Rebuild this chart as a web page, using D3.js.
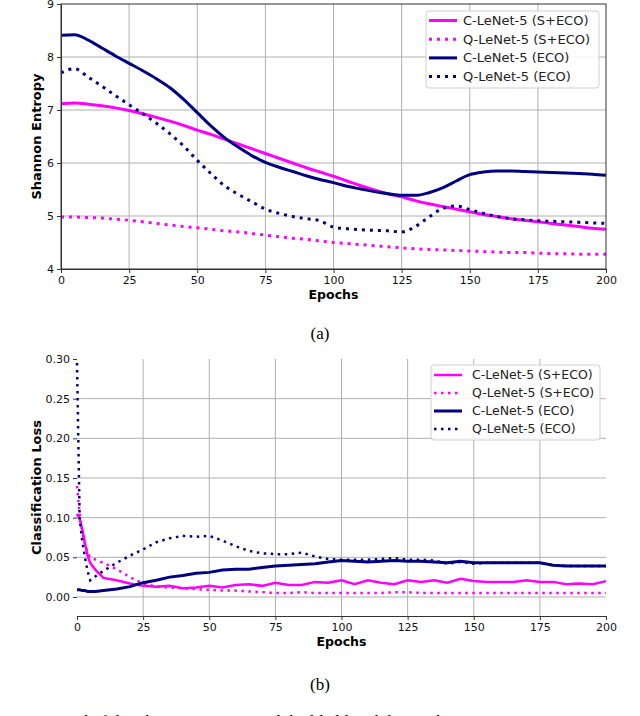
<!DOCTYPE html>
<html>
<head>
<meta charset="utf-8">
<script src="https://cdn.jsdelivr.net/npm/d3@7"></script>
<style>
body { margin: 0; background: #fff; }
svg text { font-family: "DejaVu Sans", sans-serif; fill: #000; }
</style>
</head>
<body>
<div id="viz"></div>
<script>
var width = 640;
var height = 716;

var seriesNames = ['C-LeNet-5 (S+ECO)', 'Q-LeNet-5 (S+ECO)', 'C-LeNet-5 (ECO)', 'Q-LeNet-5 (ECO)'];
var xTicks = [0, 25, 50, 75, 100, 125, 150, 175, 200];

// (a) Shannon entropy
var epochsA = [0,5,10,15,20,25,30,35,40,45,50,55,60,65,70,75,80,85,90,95,100,105,110,115,120,125,130,135,140,145,150,155,160,165,170,175,180,185,190,195,200];
var entropyCSE = [7.12,7.13,7.11,7.08,7.04,6.99,6.93,6.86,6.79,6.71,6.62,6.54,6.45,6.36,6.27,6.18,6.09,6.00,5.91,5.83,5.75,5.66,5.57,5.49,5.42,5.36,5.29,5.23,5.18,5.13,5.08,5.03,4.99,4.95,4.92,4.89,4.86,4.83,4.80,4.77,4.75];
var entropyQSE = [4.98,4.98,4.97,4.96,4.94,4.92,4.89,4.86,4.83,4.80,4.78,4.75,4.72,4.70,4.67,4.64,4.61,4.58,4.56,4.53,4.50,4.48,4.46,4.44,4.42,4.40,4.38,4.37,4.36,4.35,4.34,4.33,4.32,4.31,4.31,4.30,4.29,4.29,4.28,4.28,4.28];
var entropyCE = [8.41,8.42,8.32,8.17,8.02,7.88,7.74,7.59,7.42,7.20,6.95,6.70,6.48,6.30,6.14,6.01,5.92,5.84,5.76,5.69,5.63,5.56,5.51,5.46,5.42,5.39,5.39,5.44,5.53,5.66,5.78,5.83,5.85,5.85,5.84,5.83,5.82,5.81,5.80,5.79,5.77];
var entropyQE = [7.70,7.78,7.62,7.45,7.27,7.10,6.93,6.75,6.55,6.32,6.05,5.80,5.57,5.41,5.27,5.13,5.05,4.99,4.95,4.91,4.79,4.76,4.74,4.73,4.72,4.70,4.80,4.98,5.14,5.19,5.12,5.05,4.99,4.95,4.93,4.91,4.90,4.89,4.88,4.87,4.86];
var yTicksA = [4, 5, 6, 7, 8, 9];

// (b) classification loss
var epochsB = [0,1,2,3,4,5,7,10,15,20,25,30,35,40,45,50,55,60,65,70,75,80,85,90,95,100,105,110,115,120,125,130,135,140,145,150,155,160,165,170,175,180,185,190,195,200];
var lossCSE = [0.105,0.098,0.085,0.068,0.052,0.043,0.034,0.024,0.021,0.017,0.014,0.013,0.014,0.011,0.012,0.014,0.012,0.015,0.016,0.014,0.018,0.015,0.015,0.019,0.018,0.021,0.016,0.021,0.018,0.016,0.021,0.019,0.021,0.018,0.023,0.020,0.019,0.019,0.019,0.021,0.019,0.019,0.016,0.017,0.016,0.020];
var lossQSE = [0.140,0.105,0.082,0.066,0.056,0.050,0.047,0.043,0.035,0.025,0.017,0.013,0.012,0.011,0.010,0.009,0.008,0.008,0.007,0.006,0.005,0.005,0.006,0.005,0.005,0.005,0.005,0.005,0.005,0.006,0.006,0.005,0.005,0.005,0.005,0.005,0.005,0.005,0.005,0.005,0.005,0.005,0.005,0.005,0.005,0.005];
var lossCE = [0.009,0.009,0.008,0.008,0.007,0.007,0.007,0.008,0.010,0.013,0.018,0.021,0.025,0.027,0.030,0.031,0.034,0.035,0.035,0.037,0.039,0.040,0.041,0.042,0.044,0.046,0.045,0.044,0.045,0.046,0.045,0.045,0.044,0.043,0.045,0.043,0.043,0.043,0.043,0.043,0.043,0.040,0.039,0.039,0.039,0.039];
var lossQE = [0.295,0.100,0.070,0.050,0.033,0.021,0.026,0.033,0.043,0.052,0.060,0.069,0.074,0.077,0.076,0.077,0.071,0.064,0.058,0.055,0.054,0.054,0.056,0.051,0.048,0.047,0.047,0.047,0.048,0.049,0.047,0.047,0.046,0.042,0.044,0.042,0.043,0.043,0.043,0.043,0.043,0.040,0.039,0.039,0.039,0.039];
var yTicksB = [0, 0.05, 0.10, 0.15, 0.20, 0.25, 0.30];

var colors = ['#ff00ff', '#ff00ff', '#000080', '#000080'];
var dotted = [false, true, false, true];

var svg = d3.select('#viz').append('svg')
  .attr('width', width)
  .attr('height', height);

function panel(opt) {
  var g = svg.append('g');
  var x = d3.scaleLinear().domain([0, 200]).range([opt.left, opt.right]);
  var y = d3.scaleLinear().domain(opt.yDomain).range([opt.bottom, opt.top]);

  // grid
  g.append('g').selectAll('line')
    .data(xTicks.filter(function (t) { return opt.xGrid.indexOf(t) >= 0; }))
    .enter().append('line')
    .attr('x1', function (d) { return x(d); }).attr('x2', function (d) { return x(d); })
    .attr('y1', opt.top).attr('y2', opt.bottom)
    .style('stroke', '#b0b0b0').style('stroke-width', 1);
  g.append('g').selectAll('line')
    .data(opt.yGrid)
    .enter().append('line')
    .attr('x1', opt.left).attr('x2', opt.right)
    .attr('y1', function (d) { return y(d); }).attr('y2', function (d) { return y(d); })
    .style('stroke', '#b0b0b0').style('stroke-width', 1);

  // lines
  var line = d3.line()
    .x(function (d) { return x(d[0]); })
    .y(function (d) { return y(d[1]); })
    .curve(opt.curve);
  opt.series.forEach(function (vals, i) {
    var pts = opt.epochs.map(function (e, j) { return [e, vals[j]]; });
    g.append('path')
      .datum(pts)
      .attr('d', line)
      .style('fill', 'none')
      .style('stroke', colors[i])
      .style('stroke-width', opt.lw[i])
      .style('stroke-dasharray', dotted[i] ? opt.dash : null);
  });

  // axes
  var xAxis = g.append('g')
    .attr('transform', 'translate(0,' + opt.bottom + ')')
    .call(d3.axisBottom(x).tickValues(xTicks).tickSize(4).tickPadding(3).tickSizeOuter(0));
  var yAxis = g.append('g')
    .attr('transform', 'translate(' + opt.left + ',0)')
    .call(d3.axisLeft(y).tickValues(opt.yTicks).tickFormat(opt.yFormat).tickSize(4).tickPadding(3).tickSizeOuter(0));
  [xAxis, yAxis].forEach(function (a) {
    a.selectAll('text').style('font-size', '11px').style('font-family', '"DejaVu Sans", sans-serif').style('fill', '#111');
    a.selectAll('line').style('stroke', '#333');
    a.select('.domain').style('stroke', '#333');
  });
  if (!opt.frame) {
    yAxis.select('.domain').remove();
  } else {
    g.append('rect')
      .attr('x', opt.left).attr('y', opt.top)
      .attr('width', opt.right - opt.left).attr('height', opt.bottom - opt.top)
      .style('fill', 'none').style('stroke', '#333').style('stroke-width', 1);
  }

  // axis labels
  g.append('text')
    .attr('x', (opt.left + opt.right) / 2).attr('y', opt.xLabelY)
    .attr('text-anchor', 'middle')
    .style('font-size', '12.5px').style('font-weight', 'bold')
    .text('Epochs');
  g.append('text')
    .attr('transform', 'translate(' + opt.yLabelX + ',' + (opt.top + opt.bottom) / 2 + ') rotate(-90)')
    .attr('text-anchor', 'middle')
    .style('font-size', '13px').style('font-weight', 'bold')
    .text(opt.yLabel);

  // legend
  var L = opt.legend;
  g.append('rect')
    .attr('x', L.x).attr('y', L.y).attr('width', L.w).attr('height', L.h)
    .attr('rx', 3)
    .style('fill', '#fff').style('fill-opacity', 0.85)
    .style('stroke', '#d0d0d0').style('stroke-width', 1);
  seriesNames.forEach(function (name, i) {
    var yy = L.y + L.first + i * L.step;
    g.append('line')
      .attr('x1', L.x + 3).attr('x2', L.x + 31)
      .attr('y1', yy).attr('y2', yy)
      .style('stroke', colors[i]).style('stroke-width', opt.lw[i])
      .style('stroke-dasharray', dotted[i] ? opt.dash : null);
    g.append('text')
      .attr('x', L.x + L.textDx).attr('y', yy)
      .attr('dy', '0.35em')
      .style('font-size', L.font)
      .style('fill', '#222')
      .text(name);
  });

  // caption
  svg.append('text')
    .attr('x', 320).attr('y', opt.captionY)
    .attr('text-anchor', 'middle')
    .style('font-family', '"Liberation Serif", "Times New Roman", serif')
    .style('font-size', '17px')
    .text(opt.caption);
}

panel({
  left: 61, right: 606, top: 4, bottom: 269,
  yDomain: [4, 9], yTicks: yTicksA, yFormat: d3.format('d'),
  xGrid: [25, 50, 75, 100, 125, 150, 175], yGrid: [5, 6, 7, 8],
  epochs: epochsA, series: [entropyCSE, entropyQSE, entropyCE, entropyQE],
  curve: d3.curveMonotoneX, lw: [3, 3, 3, 3], dash: '3,5',
  frame: true, xLabelY: 299, yLabelX: 41, yLabel: 'Shannon Entropy',
  legend: { x: 426, y: 11, w: 173, h: 77, first: 9.5, step: 18.7, textDx: 37, font: '13px' },
  caption: '(a)', captionY: 339
});

panel({
  left: 77, right: 606, top: 359, bottom: 616,
  yDomain: [-0.024, 0.30], yTicks: yTicksB, yFormat: d3.format('.2f'),
  xGrid: [25, 50, 75, 100, 125, 150, 175], yGrid: [0, 0.05, 0.10, 0.15, 0.20, 0.25],
  epochs: epochsB, series: [lossCSE, lossQSE, lossCE, lossQE],
  curve: d3.curveLinear, lw: [2.5, 2.5, 3, 2.5], dash: '2.5,4.5',
  frame: false, xLabelY: 646, yLabelX: 41, yLabel: 'Classification Loss',
  legend: { x: 431, y: 365, w: 169, h: 75, first: 10, step: 18, textDx: 41, font: '12.5px' },
  caption: '(b)', captionY: 690
});

// figure caption, cut by the bottom edge as in the source
svg.append('text')
  .attr('x', 0).attr('y', 727)
  .style('font-family', '"Liberation Serif", "Times New Roman", serif')
  .style('font-size', '17px')
  .text('Fig. 3: Trend of the Shannon entropy and the likelihood during the training');
</script>
</body>
</html>
